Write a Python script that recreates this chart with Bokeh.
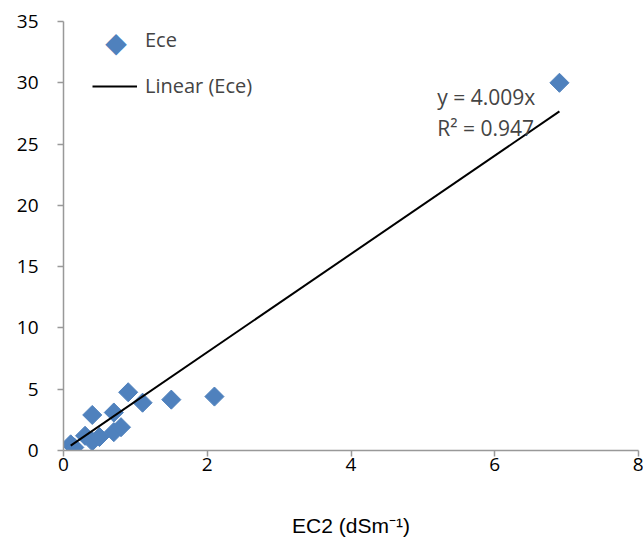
import math
from bokeh.plotting import figure
from bokeh.models import Range1d, Label, Legend, LegendItem, FixedTicker
from bokeh.embed import file_html
from bokeh.resources import INLINE

# data
ec2 = [0.1, 0.15, 0.3, 0.4, 0.4, 0.5, 0.7, 0.7, 0.8, 0.9, 1.1, 1.5, 2.1, 6.9]
ece = [0.5, 0.25, 1.2, 0.75, 2.9, 1.1, 1.5, 3.1, 1.9, 4.75, 3.9, 4.15, 4.4, 30.0]
slope = 4.009
r2 = 0.947
x_ticks = [0, 2, 4, 6, 8]
y_ticks = [0, 5, 10, 15, 20, 25, 30, 35]

trend_x = [min(ec2), max(ec2)]
trend_y = [slope * v for v in trend_x]

BLUE = "#4F81BD"
AXIS = "#999999"
TICK_FONT = "Open Sans"

p = figure(output_backend="svg", toolbar_location=None,
           frame_width=575, frame_height=429,
           min_border_left=63, min_border_right=5, min_border_top=21, min_border_bottom=88,
           x_range=Range1d(0, 8), y_range=Range1d(0, 35))
p.width = 643
p.height = 538
p.outline_line_color = None
p.xgrid.visible = False
p.ygrid.visible = False

for ax in (p.xaxis[0], p.yaxis[0]):
    ax.axis_line_color = AXIS
    ax.axis_line_width = 1.5
    ax.major_tick_line_color = AXIS
    ax.major_tick_line_width = 1.5
    ax.major_tick_out = 6
    ax.major_tick_in = 0
    ax.minor_tick_line_color = None
    ax.major_label_text_font = TICK_FONT
    ax.major_label_text_font_size = "19px"
    ax.major_label_text_color = "black"

p.xaxis.ticker = FixedTicker(ticks=x_ticks)
p.yaxis.ticker = FixedTicker(ticks=y_ticks)
p.xaxis.major_label_standoff = 1
p.yaxis.major_label_standoff = 19
p.xaxis.axis_label = "EC2 (dSm⁻¹)"
p.xaxis.axis_label_text_font = "Liberation Sans"
p.xaxis.axis_label_text_font_style = "normal"
p.xaxis.axis_label_text_font_size = "21px"
p.xaxis.axis_label_text_color = "black"
p.xaxis.axis_label_standoff = 40

pts = p.scatter(ec2, ece, marker="square", angle=math.pi / 4, size=13.5,
                fill_color=BLUE, line_color=BLUE)
ln = p.line(trend_x, trend_y, line_color="black", line_width=2)
# placeholder renderer so the legend reserves a slot for the diamond symbol
dummy = p.scatter([], [], marker="square", fill_alpha=0, line_alpha=0)

legend = Legend(items=[LegendItem(label="Ece", renderers=[dummy]),
                       LegendItem(label="Linear (Ece)", renderers=[ln])],
                location=(29, 351), padding=0, spacing=19,
                glyph_width=45, glyph_height=20, label_height=20, label_standoff=8,
                label_text_font=TICK_FONT, label_text_font_size="20px",
                border_line_color=None, background_fill_alpha=0)
p.add_layout(legend, "center")
# legend diamond symbol
p.add_layout(Label(x=0.73, y=33.28, text="◆", text_align="center", text_baseline="middle",
                   text_font="DejaVu Sans", text_font_size="28px", text_color=BLUE))

p.add_layout(Label(x=5.2, y=28.8, text="y = 4.009x", text_baseline="middle",
                   text_font=TICK_FONT, text_font_size="21px"))
p.add_layout(Label(x=5.2, y=26.3, text=f"R² = {r2}", text_baseline="middle",
                   text_font=TICK_FONT, text_font_size="21px"))

open("out.html", "w").write(file_html(p, INLINE))
